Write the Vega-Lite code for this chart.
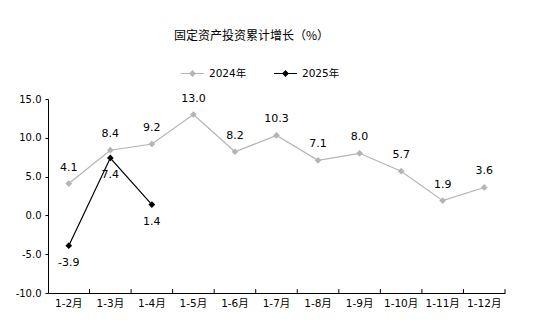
{
  "$schema": "https://vega.github.io/schema/vega-lite/v6.json",
  "width": 457,
  "height": 194,
  "autosize": {"type": "none"},
  "padding": {"left": 48, "top": 99, "right": 39, "bottom": 28},
  "background": "white",
  "title": {
    "text": "固定资产投资累计增长（%）",
    "font": "Noto Sans CJK SC",
    "fontSize": 12,
    "fontWeight": "normal",
    "color": "#000000",
    "anchor": "middle",
    "dx": -25,
    "offset": 18
  },
  "config": {
    "view": {"stroke": null},
    "font": "DejaVu Sans, Noto Sans CJK SC",
    "locale": {"number": {"decimal": ".", "thousands": ",", "grouping": [3], "currency": ["", ""], "minus": "-"}},
    "axis": {
      "domainColor": "#000000",
      "tickColor": "#000000",
      "labelColor": "#000000",
      "labelFont": "DejaVu Sans, Noto Sans CJK SC",
      "labelFontSize": 10,
      "grid": false,
      "title": null
    }
  },
  "data": {
    "values": [
      {"month": "1-2月", "year": "2024年", "value": 4.1},
      {"month": "1-3月", "year": "2024年", "value": 8.4},
      {"month": "1-4月", "year": "2024年", "value": 9.2},
      {"month": "1-5月", "year": "2024年", "value": 13.0},
      {"month": "1-6月", "year": "2024年", "value": 8.2},
      {"month": "1-7月", "year": "2024年", "value": 10.3},
      {"month": "1-8月", "year": "2024年", "value": 7.1},
      {"month": "1-9月", "year": "2024年", "value": 8.0},
      {"month": "1-10月", "year": "2024年", "value": 5.7},
      {"month": "1-11月", "year": "2024年", "value": 1.9},
      {"month": "1-12月", "year": "2024年", "value": 3.6},
      {"month": "1-2月", "year": "2025年", "value": -3.9},
      {"month": "1-3月", "year": "2025年", "value": 7.4},
      {"month": "1-4月", "year": "2025年", "value": 1.4}
    ]
  },
  "encoding": {
    "x": {
      "field": "month",
      "type": "ordinal",
      "sort": ["1-2月","1-3月","1-4月","1-5月","1-6月","1-7月","1-8月","1-9月","1-10月","1-11月","1-12月"],
      "scale": {"type": "band", "paddingInner": 0, "paddingOuter": 0},
      "axis": {"labelAngle": 0, "ticks": false, "labelPadding": 5, "labelFontSize": 10.5, "domainColor": "#000000"}
    },
    "y": {
      "field": "value",
      "type": "quantitative",
      "scale": {"domain": [-10, 15], "nice": false, "zero": false},
      "axis": {"values": [-10, -5, 0, 5, 10, 15], "format": ".1f", "tickSize": 3, "labelPadding": 4}
    }
  },
  "layer": [
    {
      "transform": [{"filter": "datum.year == '2024年'"}],
      "mark": {"type": "rule", "color": "#000000", "strokeWidth": 1},
      "encoding": {
        "x": {"field": "month", "type": "ordinal", "bandPosition": 1},
        "y": {"datum": -10},
        "y2": {"datum": -9.5},
        "color": {"value": "#000000"}
      }
    },
    {
      "mark": {"type": "line", "strokeWidth": 1.2},
      "encoding": {
        "color": {
          "field": "year",
          "type": "nominal",
          "scale": {"domain": ["2024年", "2025年"], "range": ["#b4b4b4", "#000000"]},
          "legend": {
            "orient": "none",
            "direction": "horizontal",
            "legendX": 132,
            "legendY": -38,
            "title": null,
            "symbolType": "M-1,0H-0.22L0,-0.22L0.22,0L0,0.22L-0.22,0M0.22,0H1",
            "symbolSize": 530,
            "symbolStrokeWidth": 1.2,
            "labelFont": "DejaVu Sans, Noto Sans CJK SC",
            "labelFontSize": 10.5,
            "labelColor": "#000000",
            "columnPadding": 24,
            "labelOffset": 4
          }
        }
      }
    },
    {
      "mark": {"type": "point", "shape": "diamond", "filled": true, "size": 45, "opacity": 1},
      "encoding": {
        "color": {"field": "year", "type": "nominal", "legend": null}
      }
    },
    {
      "transform": [{"filter": "datum.year == '2024年'"}],
      "mark": {"type": "text", "dy": -16, "fontSize": 11, "color": "#000000", "font": "DejaVu Sans"},
      "encoding": {"text": {"field": "value", "type": "quantitative", "format": ".1f"}}
    },
    {
      "transform": [{"filter": "datum.year == '2025年'"}],
      "mark": {"type": "text", "dy": 17, "fontSize": 11, "color": "#000000", "font": "DejaVu Sans"},
      "encoding": {"text": {"field": "value", "type": "quantitative", "format": ".1f"}}
    }
  ]
}
